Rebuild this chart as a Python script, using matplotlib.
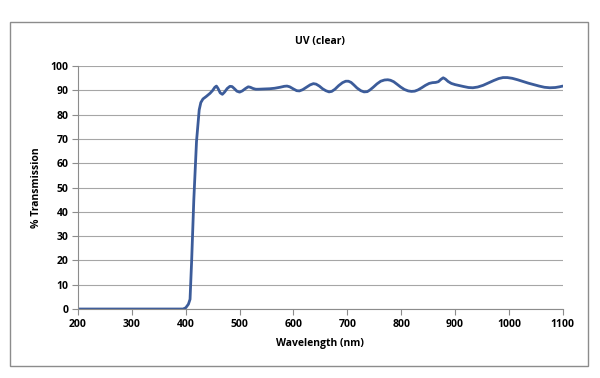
import matplotlib
matplotlib.use('Agg')
import matplotlib.pyplot as plt
from matplotlib.patches import Rectangle

# Transmission curve
wavelength = [200, 300, 395, 400, 405, 408, 411, 415, 420, 425, 428, 432, 438, 445,
              450, 454, 457, 460, 464, 468, 472, 477, 482, 486, 490, 495, 500, 505,
              511, 516, 520, 525, 530, 535, 545, 556, 565, 575, 583, 588, 593, 600,
              606, 611, 617, 624, 631, 637, 642, 648, 654, 660, 666, 671, 677, 684,
              691, 697, 702, 707, 712, 718, 725, 731, 737, 742, 748, 755, 762, 769,
              775, 780, 786, 792, 799, 806, 813, 819, 825, 831, 838, 845, 852, 858,
              864, 869, 874, 878, 882, 887, 893, 900, 908, 916, 925, 933, 942, 952,
              962, 972, 981, 989, 997, 1006, 1016, 1026, 1036, 1046, 1056, 1066,
              1076, 1086, 1094, 1100]
transmission = [0, 0, 0, 0.5, 2, 4, 20, 45, 69, 82, 85, 86.5, 87.5, 88.8,
                90, 91.3, 91.8, 90.8, 89, 88.4, 89.3, 90.8, 91.7, 91.6, 90.8, 89.7, 89.3, 89.8,
                90.8, 91.5, 91.3, 90.8, 90.5, 90.5, 90.6, 90.7, 90.9, 91.3, 91.7, 91.8, 91.5, 90.6,
                89.9, 89.8, 90.3, 91.3, 92.3, 92.8, 92.6, 91.8, 90.7, 89.9, 89.4, 89.6, 90.5, 92,
                93.2, 93.8, 93.8, 93.3, 92.3, 91, 89.9, 89.4, 89.5, 90.2, 91.3, 92.7, 93.8, 94.3,
                94.4, 94.2, 93.6, 92.6, 91.4, 90.4, 89.8, 89.6, 89.7, 90.2, 91.1, 92.1, 92.9, 93.2,
                93.3, 93.6, 94.6, 95.2, 94.7, 93.7, 92.9, 92.4, 92.0, 91.6, 91.2, 91.1, 91.4, 92.1,
                93.1, 94.1, 94.9, 95.3, 95.3, 95.0, 94.4, 93.7, 93.0, 92.4, 91.8, 91.3,
                91.1, 91.2, 91.5, 91.8]

x_ticks = list(range(200, 1101, 100))
y_ticks = list(range(0, 101, 10))

plt.rcParams['font.family'] = ['Open Sans', 'DejaVu Sans']

fig = plt.figure(figsize=(6, 3.78), dpi=100)
ax = fig.add_axes([0.13, 0.1825, 0.808, 0.6425])

# chart border
fig.patches.append(Rectangle((10 / 600, 1 - 366 / 378), 578 / 600, 344 / 378,
                             transform=fig.transFigure, fill=False,
                             edgecolor='#8c8c8c', linewidth=1.0))

ax.plot(wavelength, transmission, color='#3c5c9a', linewidth=2.0,
        solid_joinstyle='round', solid_capstyle='round')

ax.set_xlim(200, 1100)
ax.set_ylim(0, 100)
ax.set_xticks(x_ticks)
ax.set_yticks(y_ticks)
ax.tick_params(labelsize=7.5, length=4, color='#8c8c8c', width=0.8, pad=3)
for lbl in ax.get_xticklabels() + ax.get_yticklabels():
    lbl.set_fontweight('bold')

ax.grid(axis='y', color='#a6a6a6', linewidth=0.8)
ax.set_axisbelow(True)
for side in ['top', 'right']:
    ax.spines[side].set_visible(False)
for side in ['left', 'bottom']:
    ax.spines[side].set_color('#8c8c8c')
    ax.spines[side].set_linewidth(0.8)

ax.set_title('UV (clear)', fontsize=7.5, fontweight='bold', pad=16)
ax.set_xlabel('Wavelength (nm)', fontsize=7.5, fontweight='bold', labelpad=6)
ax.set_ylabel('% Transmission', fontsize=7.5, fontweight='bold', labelpad=6)

fig.savefig('out.png', dpi=100)
